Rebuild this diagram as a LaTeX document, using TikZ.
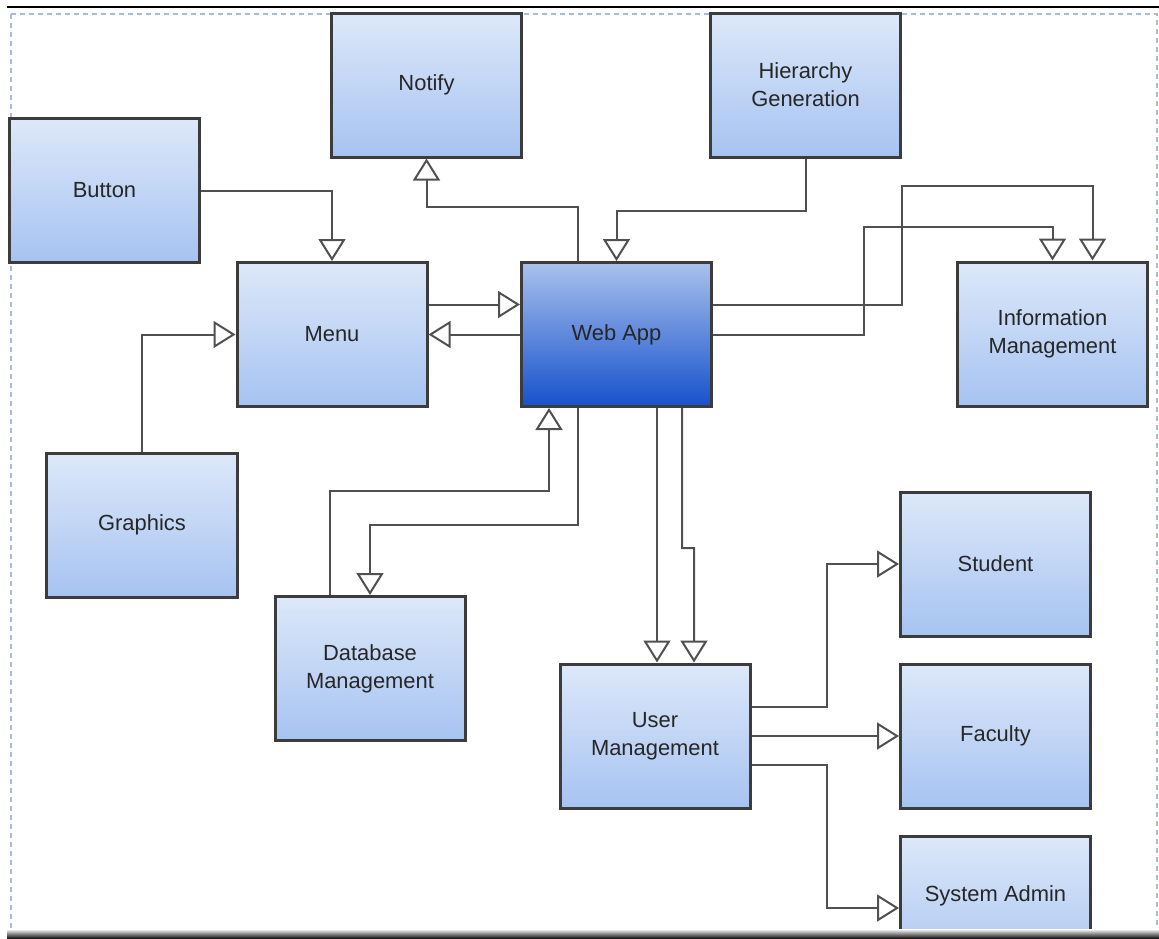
\documentclass[tikz,border=0pt]{standalone}
\usepackage{fontspec}
\setmainfont{Liberation Sans}
\usetikzlibrary{calc,arrows.meta}
\definecolor{boxtop}{HTML}{DDE8F9}
\definecolor{boxbot}{HTML}{A6C3F1}
\definecolor{apptop}{HTML}{A9C1EC}
\definecolor{appbot}{HTML}{1651CC}
\definecolor{edge}{HTML}{3C3C3C}
\definecolor{wire}{HTML}{505050}
\definecolor{frame}{HTML}{A8BCD8}
\newcommand{\boxfont}{\fontsize{22}{28}\selectfont}
\tikzset{
  box/.style={draw=edge, line width=3bp, rectangle, top color=boxtop, bottom color=boxbot,
    minimum width=190bp, minimum height=144bp, inner sep=0pt, align=center,
    font=\boxfont, text=black!85},
  appbox/.style={box, top color=apptop, bottom color=appbot},
  conn/.style={draw=wire, line width=2bp,
    -{Triangle[open, width=27bp, length=22bp, line width=2bp]}},
}
\begin{document}
\begin{tikzpicture}[x=1bp, y=-1bp]
\useasboundingbox (0,0) rectangle (1159,939);
\clip (0,0) rectangle (1159,939);
\fill[white] (0,0) rectangle (1159,939);
% page frame
\draw[frame, line width=1.5bp, dash pattern=on 5bp off 4bp] (11,14) -- (1157,14) -- (1157,939);
\draw[frame, line width=1.5bp, dash pattern=on 5bp off 4bp] (11,14) -- (11,939);
\draw[black, line width=1.5bp] (7,7) -- (1159,7);

% blocks
\node[box] (notify) at (426.5,85) {Notify};
\node[box] (hier) at (805.5,85) {Hierarchy\\Generation};
\node[box] (button) at (104.5,190.5) {Button};
\node[box] (menu) at (332,334.5) {Menu};
\node[appbox] (webapp) at (616.5,334.5) {Web App};
\node[box] (info) at (1052.5,334) {Information\\Management};
\node[box] (graphics) at (142,525) {Graphics};
\node[box] (db) at (370,668.5) {Database\\Management};
\node[box] (um) at (655,736) {User\\Management};
\node[box] (student) at (995.5,564) {Student};
\node[box] (faculty) at (995.5,736) {Faculty};
\node[box, label={[font=\boxfont, text=black!85, yshift=12bp]center:System Admin}] (sysadmin) at (995.5,908) {};

% connectors around the web app
\draw[conn] (button.east) -| (menu.north);
\draw[conn] ($(webapp.north)+(-38.5,0)$) -- ++(0,-54) -| (notify.south);
\draw[conn] (hier.south) -- ++(0,52) -| (webapp.north);
\draw[conn] ($(menu.east)+(0,-30)$) -- ($(webapp.west)+(0,-30)$);
\draw[conn] (webapp.west) -- (menu.east);
\draw[conn] (graphics.north) |- (menu.west);
\draw[conn] ($(webapp.east)+(0,-30)$) -- ++(189,0) -- ++(0,-119) -| ($(info.north)+(40,0)$);
\draw[conn] (webapp.east) -- ++(151,0) -- ++(0,-108) -| (info.north);
\draw[conn] ($(db.north)+(-40,0)$) -- ++(0,-104) -| ($(webapp.south)+(-67.5,0)$);
\draw[conn] ($(webapp.south)+(-38.5,0)$) -- ++(0,117) -| (db.north);
\coordinate (w1) at ($(webapp.south)+(40.5,0)$);
\draw[conn] (w1) -- (w1 |- um.north);
\draw[conn] ($(webapp.south)+(65.5,0)$) -- ++(0,140) -- ++(12,0) -- ($(um.north)+(39,0)$);

% user management roles
\draw[conn] ($(um.east)+(0,-29)$) -- ++(75,0) |- (student.west);
\draw[conn] (um.east) -- (faculty.west);
\draw[conn] ($(um.east)+(0,29)$) -- ++(75,0) |- (sysadmin.west);

% bottom edge
\shade[top color=white, bottom color=black] (7,929) rectangle (1159,939);
\end{tikzpicture}
\end{document}
